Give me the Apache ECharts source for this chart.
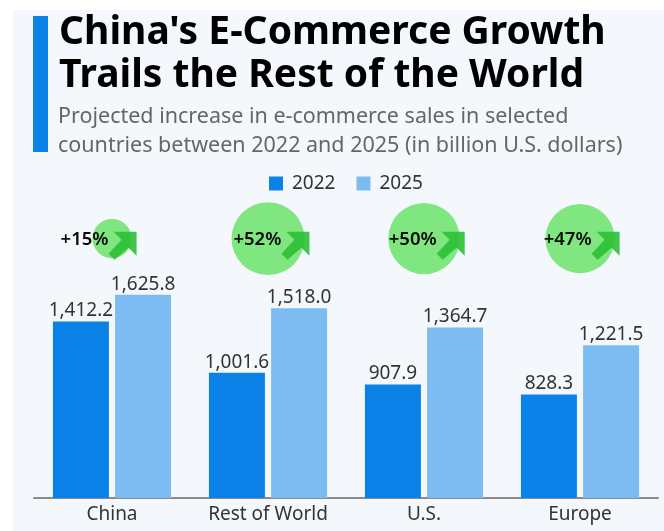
<!DOCTYPE html>
<html>
<head>
<meta charset="utf-8">
<style>html,body{margin:0;padding:0;background:#fff}#c{width:664px;height:531px}</style>
<script src="https://cdn.jsdelivr.net/npm/echarts@6/dist/echarts.min.js"></script>
</head>
<body>
<div id="c"></div>
<script>
const categories = ['China', 'Rest of World', 'U.S.', 'Europe'];
const values2022 = [1412.2, 1001.6, 907.9, 828.3];
const values2025 = [1625.8, 1518.0, 1364.7, 1221.5];
const growth = [15, 52, 50, 47];
const seriesNames = ['2022', '2025'];
const titleText = "China's E-Commerce Growth\nTrails the Rest of the World";
const subtitleText = 'Projected increase in e-commerce sales in selected\ncountries between 2022 and 2025 (in billion U.S. dollars)';

const FONT = '"Noto Sans", sans-serif';
const BUBBLE_LEVEL = 2075;
const radius = g => Math.sqrt(g) * 5.05;
const arrowDx = g => radius(g) - 9;
const ARROW = 'path://M28 0 L28 24 L20 16 L6 28 L0 22 L13 8 L5 0 Z';
const fmt = v => v.toLocaleString('en-US', {minimumFractionDigits: 1, maximumFractionDigits: 1});

const barLabel = {
  show: true, position: 'top', distance: 1, color: '#333',
  fontFamily: FONT, fontSize: 19, formatter: p => fmt(p.value)
};

const chart = echarts.init(document.getElementById('c'), null, {renderer: 'canvas'});
chart.setOption({
  animation: false,
  backgroundColor: '#ffffff',
  graphic: [
    {type: 'rect', z: -10, silent: true, shape: {x: 13, y: 10, width: 651, height: 521}, style: {fill: '#f4f7fb'}},
    {type: 'rect', z: -9, silent: true, shape: {x: 33, y: 16, width: 15, height: 136}, style: {fill: '#0b82e8'}},
    {type: 'text', left: 59, top: 11, silent: true, style: {
      text: titleText, font: 'bold 39px ' + FONT, lineHeight: 43, fill: '#000'}},
    {type: 'text', left: 58, top: 102, silent: true, style: {
      text: subtitleText, font: '21.5px ' + FONT, lineHeight: 29, fill: '#666'}}
  ],
  legend: {
    data: seriesNames, top: 169, left: 264, itemWidth: 14, itemHeight: 14, itemGap: 21,
    icon: 'rect', textStyle: {color: '#333', fontFamily: FONT, fontSize: 19, padding: [0, 0, 0, 4]}, selectedMode: false
  },
  grid: {left: 34, right: 6, top: 198, bottom: 33},
  xAxis: {
    type: 'category', data: categories,
    axisLine: {lineStyle: {color: '#8a8a8a', width: 2}},
    axisTick: {show: false},
    axisLabel: {color: '#333', fontFamily: FONT, fontSize: 19, margin: 7, interval: 0}
  },
  yAxis: {type: 'value', min: 0, max: 2400, show: false, splitLine: {show: false}},
  series: [
    {name: seriesNames[0], type: 'bar', data: values2022, barWidth: 56, barGap: '11%',
      itemStyle: {color: '#0b82e8'}, label: barLabel},
    {name: seriesNames[1], type: 'bar', data: values2025, barWidth: 56,
      itemStyle: {color: '#7cbcf2'}, label: barLabel},
    {name: 'growth', type: 'scatter', z: 3,
      data: growth.map((g, i) => ({
        value: [categories[i], BUBBLE_LEVEL], growth: g, symbolSize: radius(g) * 2,
        label: {offset: [arrowDx(g) - 38, 1]}
      })),
      itemStyle: {color: '#80e680', opacity: 1},
      label: {show: true, position: 'inside', color: '#0a0a0a', fontFamily: FONT, fontSize: 18.5, fontWeight: 600,
        formatter: p => '+' + p.data.growth + '%'}},
    {name: 'arrow', type: 'scatter', z: 4,
      data: growth.map((g, i) => ({
        value: [categories[i], BUBBLE_LEVEL],
        symbolOffset: [arrowDx(g), 7]
      })),
      symbol: ARROW, symbolSize: 28, silent: true,
      itemStyle: {color: 'rgba(40,190,50,0.88)', opacity: 1}}
  ]
});
</script>
</body>
</html>
